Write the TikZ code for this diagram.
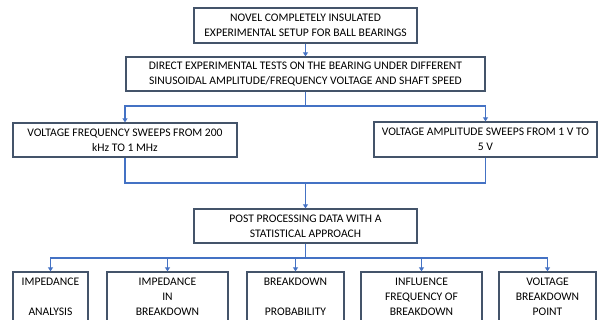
\documentclass[tikz,border=0pt]{standalone}
\usepackage{fontspec}
\setmainfont{Carlito}
\usetikzlibrary{arrows.meta}
\definecolor{boxc}{HTML}{44546A}
\definecolor{arr}{HTML}{4472C4}
\begin{document}
\begin{tikzpicture}[x=1pt,y=-1pt,
 box/.style={draw=boxc, line width=1.3pt, align=center, inner sep=0pt, font=\fontsize{11.6}{14.8}\selectfont, text=black},
 con/.style={draw=arr, line width=1.3pt},
 arrow/.style={con, -{Triangle[width=5pt,length=4pt]}}]
\useasboundingbox (0,0) rectangle (598,320);
\clip (0,0) rectangle (598,320);
\node[box, minimum width=223pt, minimum height=35pt] (n1) at (305.5,25.5) {NOVEL COMPLETELY INSULATED\\EXPERIMENTAL SETUP FOR BALL BEARINGS};
\node[box, minimum width=359pt, minimum height=34pt] (n2) at (305.5,74) {DIRECT EXPERIMENTAL TESTS ON THE BEARING UNDER DIFFERENT\\SINUSOIDAL AMPLITUDE/FREQUENCY VOLTAGE AND SHAFT SPEED};
\node[box, minimum width=224pt, minimum height=34pt] (n3) at (125,140) {VOLTAGE FREQUENCY SWEEPS FROM 200\\kHz TO 1 MHz};
\node[box, minimum width=223pt, minimum height=35pt] (n4) at (485.5,139.5) {VOLTAGE AMPLITUDE SWEEPS FROM 1 V TO\\5 V};
\node[box, minimum width=223pt, minimum height=34pt] (n5) at (305.5,226) {POST PROCESSING DATA WITH A\\STATISTICAL APPROACH};
\node[box, minimum width=75pt, minimum height=50pt] (bA) at (50.5,297) {IMPEDANCE\\~\\ANALYSIS};
\node[box, minimum width=121pt, minimum height=50pt] (bB) at (167.5,297) {IMPEDANCE\\IN\\BREAKDOWN};
\node[box, minimum width=97pt, minimum height=50pt] (bC) at (295.5,297) {BREAKDOWN\\~\\PROBABILITY};
\node[box, minimum width=121pt, minimum height=50pt] (bD) at (421.5,297) {INFLUENCE\\FREQUENCY OF\\BREAKDOWN};
\node[box, minimum width=97pt, minimum height=50pt] (bE) at (547.5,297) {VOLTAGE\\BREAKDOWN\\POINT};
\coordinate (j1) at (305.5,106);
\coordinate (j2) at (305.5,183);
\coordinate (j3) at (305.5,258);
\draw[arrow] (n1.south) -- (n2.north);
\draw[con] (n2.south) -- (j1);
\draw[arrow] (j1) -| (n3.north);
\draw[arrow] (j1) -| (n4.north);
\draw[con] (n3.south) |- (j2);
\draw[con] (n4.south) |- (j2);
\draw[arrow] (j2) -- (n5.north);
\draw[con] (n5.south) -- (j3);
\draw[arrow] (j3) -| (bA.north);
\draw[arrow] (j3) -| (bB.north);
\draw[arrow] (j3) -| (bC.north);
\draw[arrow] (j3) -| (bD.north);
\draw[arrow] (j3) -| (bE.north);
\end{tikzpicture}
\end{document}
